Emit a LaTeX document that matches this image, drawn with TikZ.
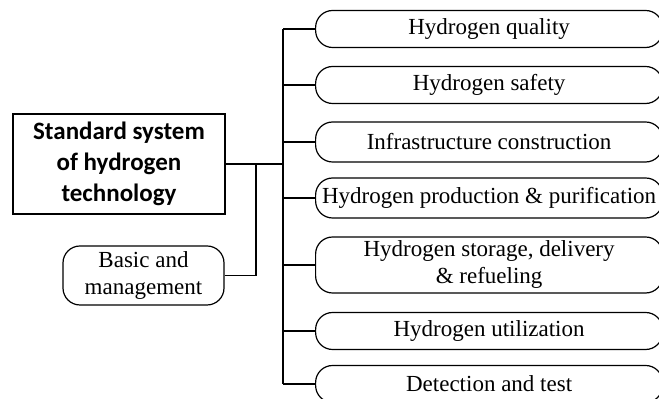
\documentclass[tikz,border=0pt]{standalone}
\usepackage{fontspec}
\setmainfont{Liberation Serif}
\newfontfamily\headfont{Carlito}
\tikzset{
    topic/.style={draw, rounded corners=8.5pt, anchor=west, minimum width=173.5pt,
        minimum height=18.5pt, inner sep=1pt, align=center,
        font=\fontsize{11.5}{13.5}\selectfont},
    headbox/.style={draw, minimum width=106pt, minimum height=50pt, align=center,
        font=\headfont\bfseries\fontsize{12.5}{15.5}\selectfont},
}

\begin{document}
\begin{tikzpicture}[x=0.5pt,y=-0.5pt,line width=0.6pt]
		\clip (0,0) rectangle (659,399);
		% root and the side box
		\node[headbox] (main) at (119,164) {Standard system\\of hydrogen\\technology};
		\node[topic, anchor=center, minimum width=80.5pt, minimum height=29.5pt] (basic) at (143.5,275.5) {Basic and\\management};
		% topics on the right
		\node[topic] (quality) at (315,29) {Hydrogen quality};
		\node[topic] (safety) at (315,85) {Hydrogen safety};
		\node[topic, minimum height=20pt] (infra) at (315,142) {Infrastructure construction};
		\node[topic, minimum height=20pt] (production) at (315,198) {Hydrogen production \& purification};
		\node[topic, minimum height=28pt] (storage) at (315,265) {Hydrogen storage, delivery\\ \& refueling};
		\node[topic] (utilization) at (315,331) {Hydrogen utilization};
		\node[topic] (detection) at (315,384) {Detection and test};
		% connectors
		\coordinate (trunk) at (283,164);
		\coordinate (split) at (256,164);
		\draw (main.east) -- (trunk);
		\draw (basic.east) -| (split);
		\draw (quality.west -| trunk) -- (detection.west -| trunk);
		\foreach \t in {quality,safety,infra,production,storage,utilization,detection}
			\draw (\t.west -| trunk) -- (\t.west);
\end{tikzpicture}
\end{document}
